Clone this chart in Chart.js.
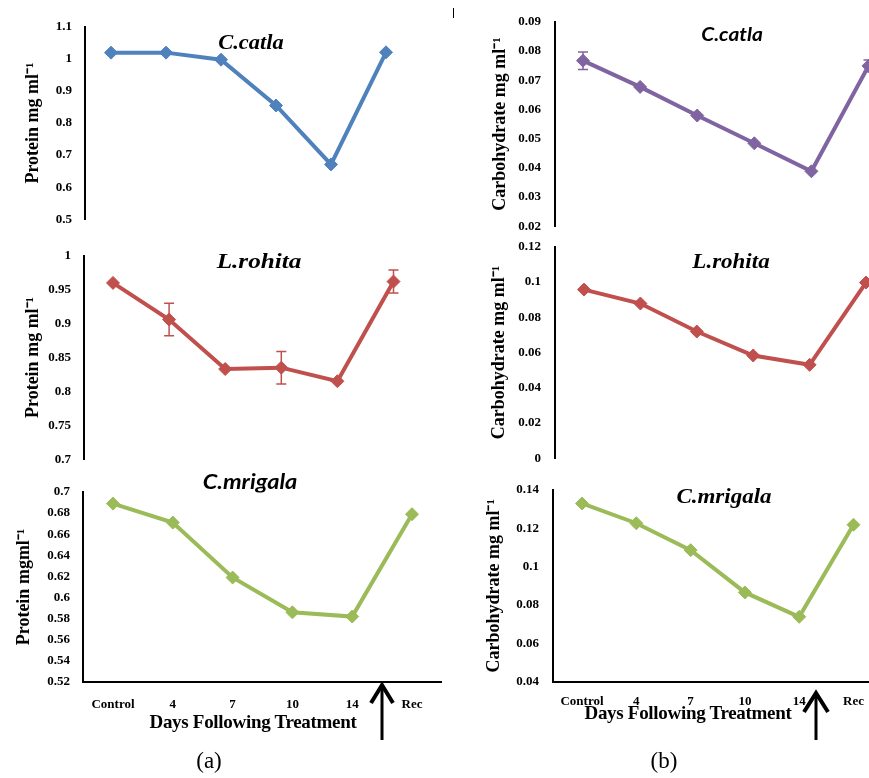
<!DOCTYPE html>
<html>
<head>
<meta charset="utf-8">
<script src="https://cdn.jsdelivr.net/npm/chart.js@4.4.0/dist/chart.umd.min.js"></script>
<style>
  body { margin: 0; background: #fff; }
  #wrap { position: relative; width: 869px; height: 778px; overflow: hidden; background: #fff; }
  #wrap canvas { position: absolute; }
  .lbl { position: absolute; white-space: nowrap; color: #000; transform: translate(-50%, -50%); line-height: 1; }
  .sp { font-family: "Liberation Serif", serif; font-weight: bold; font-style: italic; }
  .ss { font-family: Lato, "Open Sans", sans-serif; font-weight: bold; font-style: italic; }
  .xt { font-family: "Liberation Serif", serif; font-weight: bold; font-size: 19px; letter-spacing: -0.3px; }
  .cap { font-family: "Liberation Serif", serif; font-size: 23px; }
</style>
</head>
<body>
<div id="wrap">
  <canvas id="c1"></canvas>
  <canvas id="c2"></canvas>
  <canvas id="c3"></canvas>
  <canvas id="c4"></canvas>
  <canvas id="c5"></canvas>
  <canvas id="c6"></canvas>

  <div class="lbl sp" style="left:251px;top:42px;font-size:20px;transform:translate(-50%,-50%) scaleX(1.12)">C.catla</div>
  <div class="lbl sp" style="left:259px;top:261px;font-size:21px;transform:translate(-50%,-50%) scaleX(1.2)">L.rohita</div>
  <div class="lbl ss" style="left:250px;top:480px;font-size:21px;transform:translate(-50%,-50%) scaleX(1.12)">C.mrigala</div>
  <div class="lbl ss" style="left:732px;top:33px;font-size:19px;transform:translate(-50%,-50%) scaleX(1.1)">C.catla</div>
  <div class="lbl sp" style="left:731px;top:261px;font-size:20px;transform:translate(-50%,-50%) scaleX(1.15)">L.rohita</div>
  <div class="lbl sp" style="left:724px;top:496px;font-size:20px;transform:translate(-50%,-50%) scaleX(1.15)">C.mrigala</div>

  <div class="lbl xt" style="left:253px;top:721px;">Days Following Treatment</div>
  <div class="lbl xt" style="left:688px;top:712px;">Days Following Treatment</div>

  <div class="lbl cap" style="left:209px;top:760px;">(a)</div>
  <div class="lbl cap" style="left:664px;top:760px;">(b)</div>

  <div style="position:absolute;left:453px;top:8px;width:1px;height:10px;background:#000"></div>

  <svg width="869" height="778" style="position:absolute;left:0;top:0" fill="none" stroke="#000">
    <line x1="382" y1="687" x2="382" y2="740" stroke-width="3"/>
    <polyline points="371,703 382,685 393,703" stroke-width="4"/>
    <line x1="816" y1="695" x2="816" y2="740" stroke-width="3"/>
    <polyline points="804,712 816,693 828,712" stroke-width="4"/>
  </svg>
</div>

<script>
// days after treatment (x categories)
const days = ['Control', '4', '7', '10', '14', 'Rec'];

// (a) protein, mg/ml
const proteinCatla = [1.02, 1.02, 0.998, 0.855, 0.671, 1.021];
const proteinCatlaErr = [0, 0, 0, 0, 0, 0];
const proteinRohita = [0.96, 0.906, 0.833, 0.835, 0.815, 0.962];
const proteinRohitaErr = [0, 0.024, 0, 0.024, 0, 0.017];
const proteinMrigala = [0.689, 0.671, 0.619, 0.586, 0.582, 0.679];
const proteinMrigalaErr = [0, 0, 0, 0, 0, 0];

// (b) carbohydrate, mg/ml
const carbCatla = [0.0767, 0.0677, 0.0579, 0.0484, 0.0388, 0.0749];
const carbCatlaErr = [0.003, 0, 0, 0, 0, 0.002];
const carbRohita = [0.0957, 0.0878, 0.0719, 0.0583, 0.053, 0.0997];
const carbRohitaErr = [0, 0, 0, 0, 0, 0];
const carbMrigala = [0.1329, 0.1226, 0.1086, 0.0866, 0.0739, 0.1218];
const carbMrigalaErr = [0, 0, 0, 0, 0, 0];

// y tick labels
const proteinCatlaTicks = [0.5, 0.6, 0.7, 0.8, 0.9, 1, 1.1];
const proteinRohitaTicks = [0.7, 0.75, 0.8, 0.85, 0.9, 0.95, 1];
const proteinMrigalaTicks = [0.52, 0.54, 0.56, 0.58, 0.6, 0.62, 0.64, 0.66, 0.68, 0.7];
const carbCatlaTicks = [0.02, 0.03, 0.04, 0.05, 0.06, 0.07, 0.08, 0.09];
const carbRohitaTicks = [0, 0.02, 0.04, 0.06, 0.08, 0.1, 0.12];
const carbMrigalaTicks = [0.04, 0.06, 0.08, 0.1, 0.12, 0.14];

const blue = '#4F81BD';
const red = '#C0504D';
const green = '#9BBB59';
const purple = '#8064A2';

const protTitle = 'Protein mg ml\u207B\u00B9';
const carbTitle = 'Carbohydrate mg ml\u207B\u00B9';

const panels = [
  {id: 'c1', values: proteinCatla, errors: proteinCatlaErr, ticks: proteinCatlaTicks, color: blue, yTitle: protTitle,
    box: {left: 0, top: 0, width: 442, height: 240}, area: {left: 85, top: 27, bottom: 221}, x0: 111, dx: 55, titleX: 33, tickPad: 13, showX: false},
  {id: 'c2', values: proteinRohita, errors: proteinRohitaErr, ticks: proteinRohitaTicks, color: red, yTitle: protTitle,
    box: {left: 0, top: 235, width: 442, height: 245}, area: {left: 84, top: 250, bottom: 465}, x0: 113, dx: 56.1, titleX: 33, tickPad: 13, showX: false},
  {id: 'c3', values: proteinMrigala, errors: proteinMrigalaErr, ticks: proteinMrigalaTicks, color: green, yTitle: 'Protein mgml\u207B\u00B9',
    box: {left: 0, top: 470, width: 442, height: 245}, area: {left: 83, top: 492, bottom: 682}, x0: 113, dx: 59.8, titleX: 24, tickPad: 13, showX: true, xPad: 15},
  {id: 'c4', values: carbCatla, errors: carbCatlaErr, ticks: carbCatlaTicks, color: purple, yTitle: carbTitle,
    box: {left: 430, top: 0, width: 439, height: 248}, area: {left: 555, top: 16, bottom: 236}, x0: 583, dx: 57.1, titleX: 500, tickPad: 14, showX: false},
  {id: 'c5', values: carbRohita, errors: carbRohitaErr, ticks: carbRohitaTicks, color: red, yTitle: carbTitle,
    box: {left: 430, top: 225, width: 439, height: 255}, area: {left: 555, top: 240, bottom: 467}, x0: 584, dx: 56.4, titleX: 499, tickPad: 14, showX: false},
  {id: 'c6', values: carbMrigala, errors: carbMrigalaErr, ticks: carbMrigalaTicks, color: green, yTitle: carbTitle,
    box: {left: 430, top: 468, width: 439, height: 245}, area: {left: 553, top: 480, bottom: 682}, x0: 582, dx: 54.3, titleX: 494, tickPad: 14, showX: true, xPad: 12},
];

const errorBars = {
  id: 'errorBars',
  afterDatasetsDraw(chart) {
    const ctx = chart.ctx;
    const x = chart.scales.x;
    const y = chart.scales.y;
    chart.data.datasets.forEach(ds => {
      if (!ds.errors) return;
      ctx.save();
      ctx.strokeStyle = ds.borderColor;
      ctx.lineWidth = 1.5;
      ds.data.forEach((p, i) => {
        const e = ds.errors[i];
        if (!e) return;
        const px = x.getPixelForValue(p.x);
        const top = y.getPixelForValue(p.y + e);
        const bot = y.getPixelForValue(p.y - e);
        ctx.beginPath();
        ctx.moveTo(px, top); ctx.lineTo(px, bot);
        ctx.moveTo(px - 5, top); ctx.lineTo(px + 5, top);
        ctx.moveTo(px - 5, bot); ctx.lineTo(px + 5, bot);
        ctx.stroke();
      });
      ctx.restore();
    });
  }
};

function makePanel(p) {
  const canvas = document.getElementById(p.id);
  canvas.width = p.box.width;
  canvas.height = p.box.height;
  canvas.style.left = p.box.left + 'px';
  canvas.style.top = p.box.top + 'px';

  const areaRight = p.box.left + p.box.width;
  const xMin = (p.area.left - p.x0) / p.dx;
  const xMax = (areaRight - p.x0) / p.dx;
  const below = p.box.top + p.box.height - p.area.bottom;
  const lineH = 18 * 1.2;

  new Chart(canvas, {
    type: 'line',
    data: {
      datasets: [{
        data: p.values.map((v, i) => ({x: i, y: v})),
        errors: p.errors,
        borderColor: p.color,
        backgroundColor: p.color,
        borderWidth: 4,
        pointStyle: 'rectRot',
        pointRadius: 6.5,
        pointHoverRadius: 6.5,
        pointBorderWidth: 1,
        tension: 0,
        clip: false
      }]
    },
    options: {
      responsive: false,
      animation: false,
      events: [],
      layout: {autoPadding: false, padding: {left: 0, right: 0, top: p.area.top - p.box.top, bottom: p.showX ? 0 : below}},
      plugins: {legend: {display: false}, tooltip: {enabled: false}},
      scales: {
        x: {
          type: 'linear',
          min: xMin,
          max: xMax,
          display: p.showX,
          grid: {display: false, drawTicks: false},
          border: {display: true, color: '#000', width: 2},
          ticks: {
            padding: p.xPad || 0,
            color: '#000',
            maxRotation: 0,
            autoSkip: false,
            font: {family: 'Liberation Serif', weight: 'bold', size: 13},
            callback: v => days[v]
          },
          afterBuildTicks: s => { s.ticks = days.map((d, i) => ({value: i})); },
          afterFit: s => {
            s.paddingLeft = 0;
            s.paddingRight = 0;
            if (p.showX) s.height = below;
          }
        },
        y: {
          min: p.ticks[0],
          max: p.ticks[p.ticks.length - 1],
          grid: {display: false, drawTicks: false},
          border: {display: true, color: '#000', width: 2},
          ticks: {
            padding: p.tickPad,
            color: '#000',
            font: {family: 'Liberation Serif', weight: 'bold', size: 13},
            callback: v => String(v)
          },
          afterBuildTicks: s => { s.ticks = p.ticks.map(v => ({value: v})); },
          afterFit: s => { s.width = p.area.left - p.box.left; },
          title: {
            display: true,
            text: p.yTitle,
            color: '#000',
            font: {family: 'Liberation Serif', weight: 'bold', size: 18},
            padding: {top: p.titleX - p.box.left - lineH / 2, bottom: 0}
          }
        }
      }
    },
    plugins: [errorBars]
  });
}

panels.forEach(makePanel);
</script>
</body>
</html>
